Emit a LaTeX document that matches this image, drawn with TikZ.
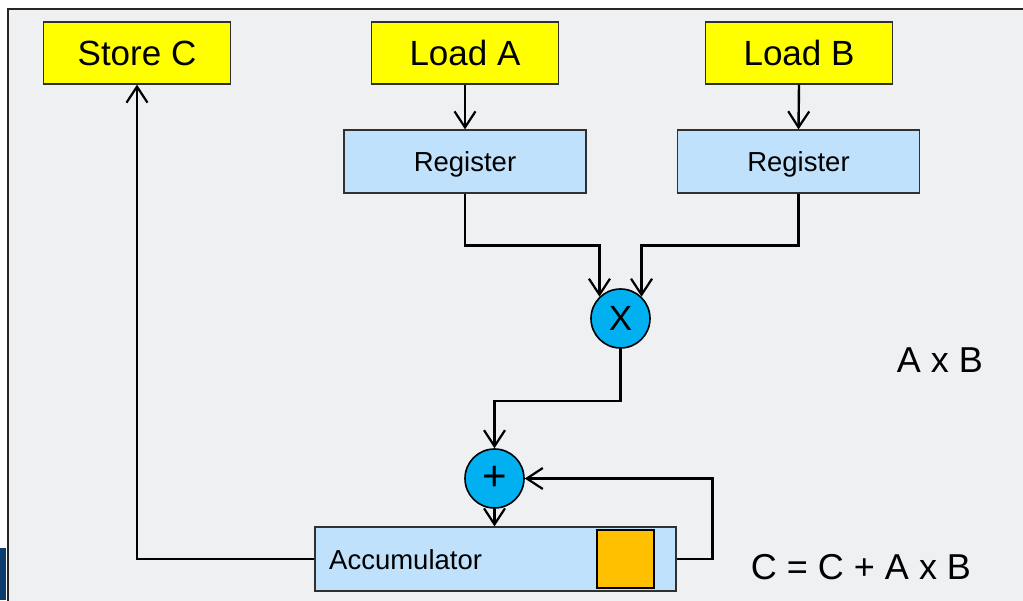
\documentclass[tikz,border=0pt]{standalone}
\usepackage{fontspec}
\setmainfont{Liberation Sans}
\usetikzlibrary{arrows.meta,calc}
\definecolor{panelbg}{HTML}{EFF0F2}
\definecolor{opyellow}{HTML}{FFFF00}
\definecolor{regblue}{HTML}{BFE1FB}
\definecolor{alublue}{HTML}{00B0F0}
\definecolor{cellorange}{HTML}{FFC000}
\definecolor{navy}{HTML}{0A3D6E}
\definecolor{boxline}{HTML}{303030}
\tikzset{
  opbox/.style={draw=boxline, line width=1.3pt, fill=opyellow, minimum width=187pt,
    minimum height=62pt, inner sep=0pt, text depth=0pt, font=\fontsize{35}{42}\selectfont},
  regbox/.style={draw=boxline, line width=1.3pt, fill=regblue, minimum width=242pt,
    minimum height=63pt, inner sep=0pt, text depth=0pt, font=\fontsize{27.5}{32}\selectfont},
  alu/.style={circle, draw=black, line width=1.6pt, fill=alublue, minimum size=59pt,
    inner sep=0pt, font=\fontsize{35}{40}\selectfont},
  wire/.style={line width=2.4pt, black},
  arr/.style={wire, -{Straight Barb[length=16pt,width=21pt,line width=2.2pt]}},
  note/.style={font=\fontsize{36}{42}\selectfont, inner sep=0pt}
}
\begin{document}
\begin{tikzpicture}[x=1pt,y=-1pt]
  \useasboundingbox (0,0) rectangle (1023,600);
  \clip (0,0) rectangle (1023,600);
  \fill[white] (0,0) rectangle (1023,600);
  % panel
  \draw[line width=2pt, draw=black!85, fill=panelbg] (7.5,8.5) rectangle (1040,620);
  \fill[navy] (0,548) rectangle (6,600);

  % memory operations
  \node[opbox] (store) at (137,53) {Store C};
  \node[opbox] (loadA) at (465,53) {Load A};
  \node[opbox] (loadB) at (799,53) {Load B};

  % input registers
  \node[regbox] (regA) at (465,161.5) {Register};
  \node[regbox] (regB) at (798.5,161.5) {Register};

  % multiplier and adder
  \node[alu] (mul) at (620.5,318.5) {X};
  \node[alu, font=\fontsize{42}{44}\selectfont] (add) at (494.5,478.5) {+};

  % accumulator with its storage cell
  \node[regbox, minimum width=361pt, minimum height=64pt] (acc) at (495.5,559) {};
  \node[anchor=west, inner sep=0pt, font=\fontsize{27.5}{32}\selectfont] (acclabel) at (329,560) {Accumulator};
  \node[draw=black, line width=1.4pt, fill=cellorange, minimum width=57pt,
    minimum height=58pt, inner sep=0pt] (cell) at (625.5,559) {};

  % annotations
  \node[note] (prod) at (940,360) {A x B};
  \node[note] (mac) at (861,567) {C = C + A x B};

  % data paths
  \draw[arr] (loadA.south) -- (regA.north);
  \draw[arr] (loadB.south) -- (regB.north);
  \draw[arr] (regA.south) -- ++(0,52) -| (mul.134);
  \draw[arr] (regB.south) -- ++(0,52) -| (mul.46);
  \draw[arr] (mul.south) -- ++(0,52) -| (add.north);
  \draw[arr] (add.south) -- (add.south |- acc.north);
  \draw[arr] (acc.east) -- ++(36,0) |- (add.east);
  \draw[arr] (acc.west) -| (store.south);
\end{tikzpicture}
\end{document}
